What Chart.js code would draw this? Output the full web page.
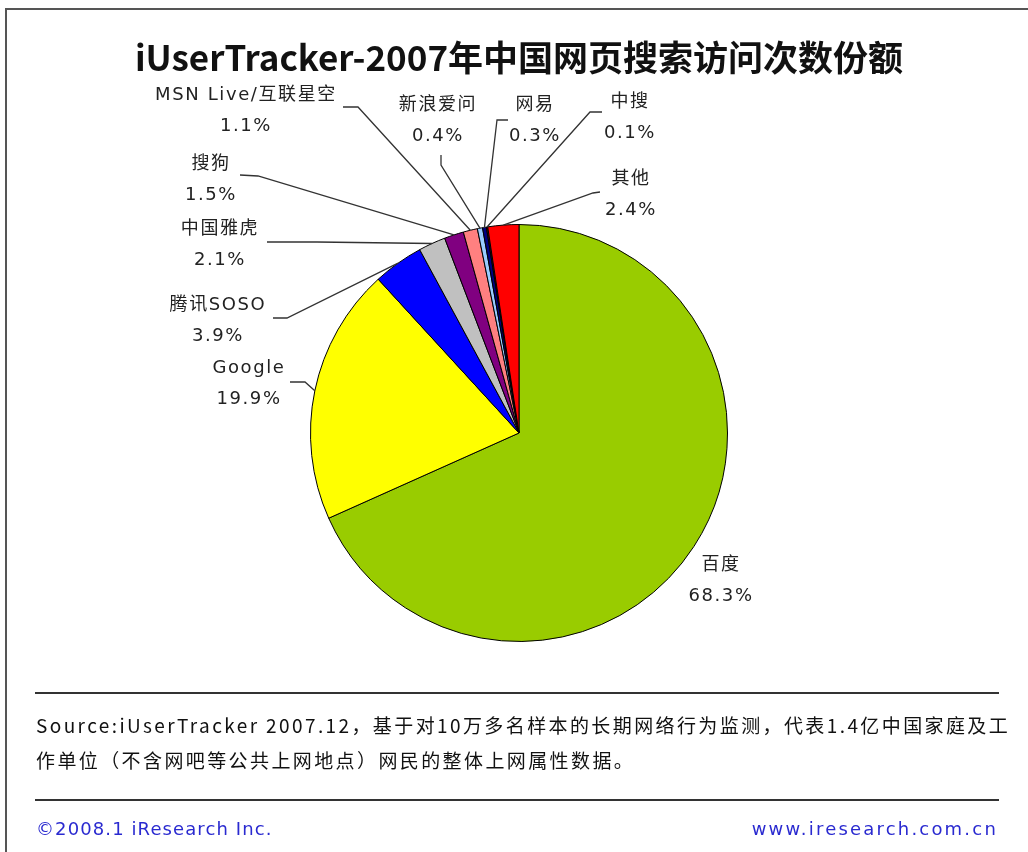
<!DOCTYPE html>
<html>
<head>
<meta charset="utf-8">
<script src="https://cdn.jsdelivr.net/npm/chart.js@4.4.1/dist/chart.umd.min.js"></script>
<style>
  html,body{margin:0;padding:0;background:#fff;}
  body{width:1028px;height:852px;position:relative;overflow:hidden;font-family:"Noto Sans CJK SC","DejaVu Sans",sans-serif;}
  #frameTop{position:absolute;left:5px;top:8px;width:1023px;height:2px;background:#555;}
  #frameLeft{position:absolute;left:5px;top:8px;width:2px;height:844px;background:#555;}
  #c{position:absolute;left:0;top:0;}
  #title{position:absolute;left:0;width:1038px;top:34px;text-align:center;font-size:35px;font-weight:bold;color:#111;line-height:44px;}
  .lbl{position:absolute;transform:translateX(-50%);text-align:center;font-family:"DejaVu Sans","Noto Sans CJK SC",sans-serif;font-size:18px;letter-spacing:1.6px;line-height:31px;color:#222;white-space:nowrap;}
  .hr{position:absolute;left:35px;width:964px;height:2px;background:#333;}
  #src{position:absolute;left:36px;top:707px;font-size:19px;letter-spacing:2.4px;line-height:35px;color:#111;white-space:nowrap;}
  .foot{position:absolute;top:817px;font-family:"DejaVu Sans",sans-serif;font-size:18px;color:#2a2ad0;line-height:24px;}
</style>
</head>
<body>
<div id="frameTop"></div><div id="frameLeft"></div>
<canvas id="c" width="1028" height="852"></canvas>
<div id="title">iUserTracker-2007年中国网页搜索访问次数份额</div>
<div class="hr" style="top:692px"></div>
<div id="src">Source:iUserTracker 2007.12，基于对10万多名样本的长期网络行为监测，代表1.4亿中国家庭及工<br>作单位（不含网吧等公共上网地点）网民的整体上网属性数据。</div>
<div class="hr" style="top:799px"></div>
<div class="foot" style="left:36px;letter-spacing:1.1px">©2008.1 iResearch Inc.</div>
<div class="foot" style="right:30px;letter-spacing:2.2px">www.iresearch.com.cn</div>
<div id="labels"></div>
<script>
// ---- data ----
const categories = ['百度','Google','腾讯SOSO','中国雅虎','搜狗','MSN Live/互联星空','新浪爱问','网易','中搜','其他'];
const shares = [68.3, 19.9, 3.9, 2.1, 1.5, 1.1, 0.4, 0.3, 0.1, 2.4];
const sliceColors = ['#99cc00','#ffff00','#0000ff','#c0c0c0','#800080','#ff8080','#99ccff','#000080','#800000','#ff0000'];

// ---- label layout (centre of first text line) ----
const labelPos = [[721,563],[249,366],[218,303],[220,227],[211,162],[246,93],[438,103],[535,103],[630,100],[631,177]];
// leader line points on the label side (the line then runs to the slice edge)
const leaderPts = [
  [],
  [[290,382],[305,382]],
  [[273,318],[287,318]],
  [[267,242],[317,242]],
  [[240,175],[258,176]],
  [[343,107],[358,107]],
  [[441,155],[441,165]],
  [[508,120],[497,120]],
  [[602,112],[590,112]],
  [[600,192],[593,193]]
];

const labelsDiv = document.getElementById('labels');
categories.forEach((name,i)=>{
  const d = document.createElement('div');
  d.className = 'lbl';
  d.style.left = labelPos[i][0]+'px';
  d.style.top = (labelPos[i][1]-15.5)+'px';
  d.innerHTML = name + '<br>' + shares[i].toFixed(1) + '%';
  labelsDiv.appendChild(d);
});

const leaderPlugin = {
  id:'leaders',
  afterDatasetsDraw(chart){
    const ctx = chart.ctx;
    const meta = chart.getDatasetMeta(0);
    ctx.save();
    ctx.strokeStyle = '#333';
    ctx.lineWidth = 1.3;
    meta.data.forEach((arc,i)=>{
      const pts = leaderPts[i];
      if(!pts.length) return;
      const p = arc.getProps(['x','y','startAngle','endAngle','outerRadius'], true);
      const a = (p.startAngle + p.endAngle)/2;
      const ex = p.x + Math.cos(a)*p.outerRadius;
      const ey = p.y + Math.sin(a)*p.outerRadius;
      ctx.beginPath();
      ctx.moveTo(pts[0][0], pts[0][1]);
      for(let k=1;k<pts.length;k++) ctx.lineTo(pts[k][0], pts[k][1]);
      ctx.lineTo(ex, ey);
      ctx.stroke();
    });
    ctx.restore();
  }
};

new Chart(document.getElementById('c'), {
  type:'pie',
  data:{
    labels: categories,
    datasets:[{
      data: shares,
      backgroundColor: sliceColors,
      borderColor:'#000',
      borderWidth:1
    }]
  },
  options:{
    responsive:false,
    animation:false,
    devicePixelRatio:1,
    layout:{padding:{left:310,right:300,top:224,bottom:210}},
    plugins:{legend:{display:false},tooltip:{enabled:false},title:{display:false}}
  },
  plugins:[leaderPlugin]
});
</script>
</body>
</html>
